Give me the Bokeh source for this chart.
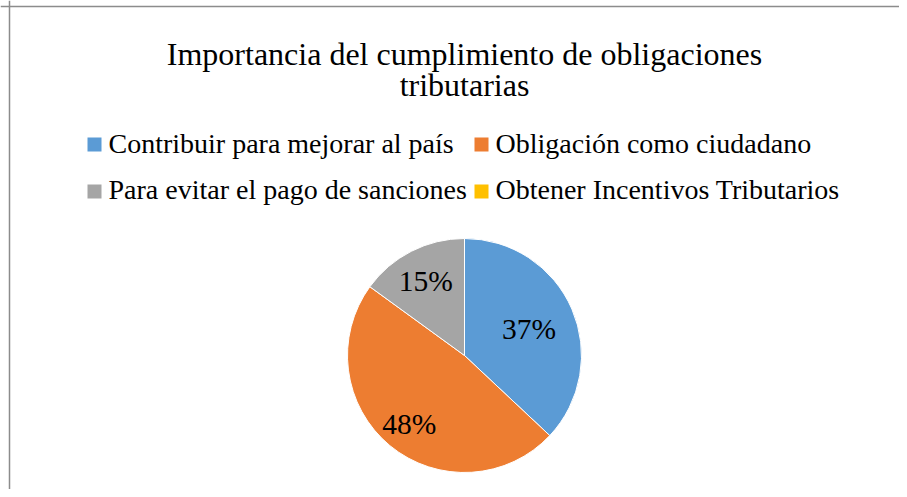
import math
from bokeh.plotting import figure
from bokeh.models import Range1d, ColumnDataSource, Span
from bokeh.core.properties import value
from bokeh.embed import file_html
from bokeh.resources import INLINE

# ---- data ----
categories = ["Contribuir para mejorar al país", "Obligación como ciudadano",
              "Para evitar el pago de sanciones", "Obtener Incentivos Tributarios"]
shares = [37, 48, 15, 0]
colors = ["#5B9BD5", "#ED7D31", "#A5A5A5", "#FFC000"]
label_radius = [0.60, 0.74, 0.73, 0.7]   # label placement as fraction of radius
title_lines = ["Importancia del cumplimiento de obligaciones", "tributarias"]

W, H = 899, 489
FONT = "Liberation Serif"
BASE_FIX = 0.28  # baseline correction (fraction of font size)

p = figure(width=W, height=H, output_backend="svg", toolbar_location=None,
           x_range=Range1d(0, W), y_range=Range1d(0, H),
           min_border=0, min_border_left=0, min_border_right=0,
           min_border_top=0, min_border_bottom=0)
p.axis.visible = False
p.grid.visible = False
p.outline_line_color = None
p.background_fill_color = "white"
p.border_fill_color = "white"

def px(ref_x):
    return ref_x

def py(ref_y):
    return H - ref_y

def ty(ref_baseline, size):
    return py(ref_baseline) + BASE_FIX * size

# chart frame (top and left edges visible)
p.add_layout(Span(location=px(9), dimension="height", line_color="#8C8C8C", line_width=1.5))
p.add_layout(Span(location=py(6), dimension="width", line_color="#8C8C8C", line_width=1.5))

# ---- title ----
TS = 32
p.text(x=[px(464)] * 2, y=[ty(62, TS), ty(93, TS)], text=title_lines,
       text_font=value(FONT), text_font_size=f"{TS}px", text_color="#000000",
       text_align="center", text_baseline="alphabetic")

# ---- legend ----
LS = 28
sq_x = [94, 481, 94, 481]
sq_y = [144, 144, 191, 191]
base_y = [151, 151, 197, 197]
txt_x = [108, 495, 108, 495]
p.rect(x=[px(v) for v in sq_x], y=[py(v) for v in sq_y], width=14, height=14,
       width_units="screen", height_units="screen", fill_color=colors, line_color=None)
p.text(x=[px(v) for v in txt_x], y=[ty(v, LS) for v in base_y], text=categories,
       text_font=value(FONT), text_font_size=f"{LS}px", text_color="#000000",
       text_align="left", text_baseline="alphabetic")

# ---- pie ----
cx, cy, R = px(464), py(355), 117
total = float(sum(shares))
starts, ends, cols, lx, ly, ltxt = [], [], [], [], [], []
cum = 0.0
PS = 29.5
for s, c, lr in zip(shares, colors, label_radius):
    if s > 0:
        a0 = math.pi / 2 - 2 * math.pi * cum / total
        a1 = math.pi / 2 - 2 * math.pi * (cum + s) / total
        starts.append(a0)
        ends.append(a1)
        cols.append(c)
        mid = (a0 + a1) / 2
        lx.append(cx + lr * R * math.cos(mid))
        # visual centre -> alphabetic baseline (digits ~0.66em tall)
        ly.append(cy + lr * R * math.sin(mid) - 0.33 * PS + BASE_FIX * PS)
        ltxt.append(f"{s}%")
    cum += s

src = ColumnDataSource(dict(start=starts, end=ends, color=cols))
p.wedge(x=cx, y=cy, radius=R, radius_units="screen", start_angle="start",
        end_angle="end", direction="clock", fill_color="color",
        line_color="white", line_width=1, source=src)

p.text(x=lx, y=ly, text=ltxt, text_font=value(FONT),
       text_font_size=f"{PS}px", text_color="#000000", text_align="center",
       text_baseline="alphabetic")

open("out.html", "w").write(file_html(p, INLINE))
